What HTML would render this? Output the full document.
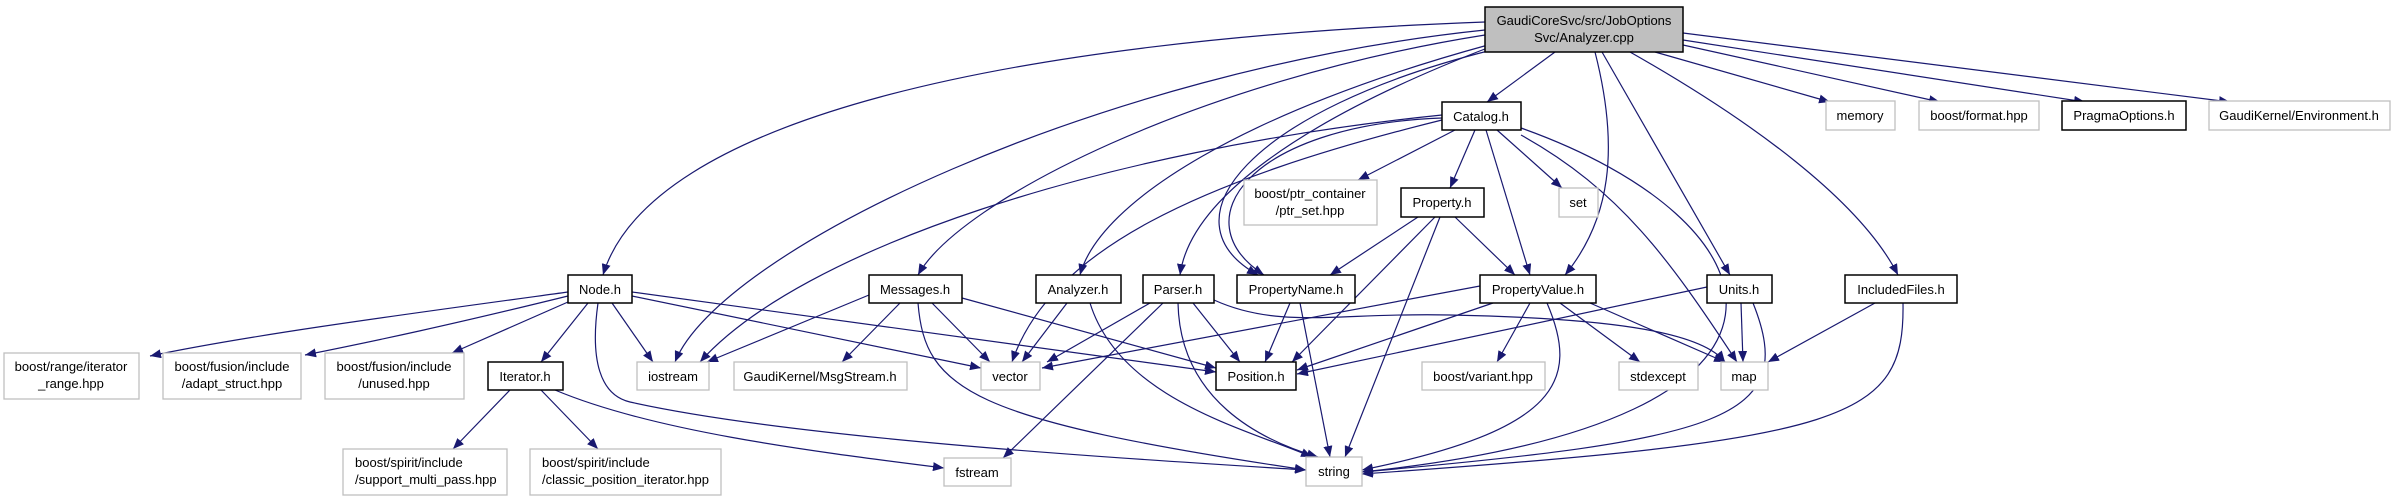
<!DOCTYPE html>
<html><head><meta charset="utf-8"><style>
html,body{margin:0;padding:0;background:#fff;}
svg{display:block;}
text{font-family:"Liberation Sans",sans-serif;font-size:13px;fill:#000;}
.e{fill:none;stroke:#191970;stroke-width:1.2;marker-end:url(#a);}
.b{fill:#fff;stroke:#000;stroke-width:1.5;}
.g{fill:#fff;stroke:#bfbfbf;stroke-width:1.3;}
</style></head><body>
<svg width="2396" height="501" viewBox="0 0 2396 501" xmlns="http://www.w3.org/2000/svg">
<defs><marker id="a" markerUnits="userSpaceOnUse" markerWidth="12" markerHeight="9" refX="11" refY="4.5" orient="auto"><path d="M0,0 L11,4.5 L0,9 z" fill="#191970"/></marker></defs>
<g>
<path class="e" d="M1485,22 C1000,40 650,120 603,275"/>
<path class="e" d="M1485,30 C1100,70 720,250 675,362"/>
<path class="e" d="M1485,35 C1200,80 960,200 918,275"/>
<path class="e" d="M1488,45 C1250,110 1100,200 1080,275"/>
<path class="e" d="M1490,47 C1300,120 1190,200 1180,275"/>
<path class="e" d="M1492,50 C1250,110 1160,220 1258,275"/>
<path class="e" d="M1555,52 L1487,102"/>
<path class="e" d="M1595,52 C1620,150 1610,220 1565,275"/>
<path class="e" d="M1602,52 L1730,275"/>
<path class="e" d="M1630,52 C1750,120 1860,200 1898,275"/>
<path class="e" d="M1655,52 L1830,102"/>
<path class="e" d="M1683,45 L1940,102"/>
<path class="e" d="M1683,40 L2085,102"/>
<path class="e" d="M1683,33 L2230,102"/>

<path class="e" d="M568,292 C400,315 250,335 150,356"/>
<path class="e" d="M568,296 C450,325 380,340 305,355"/>
<path class="e" d="M568,302 L452,353"/>
<path class="e" d="M588,303 L541,362"/>
<path class="e" d="M612,303 L653,362"/>
<path class="e" d="M598,303 C590,360 600,395 630,402 C800,440 1150,460 1306,470"/>
<path class="e" d="M632,296 L981,368"/>
<path class="e" d="M632,292 L1216,372"/>
<path class="e" d="M510,390 L453,449"/>
<path class="e" d="M541,390 L598,449"/>
<path class="e" d="M555,390 C650,430 800,450 944,468"/>
<path class="e" d="M869,295 L707,362"/>
<path class="e" d="M900,303 L842,362"/>
<path class="e" d="M932,303 L990,362"/>
<path class="e" d="M962,298 L1216,368"/>
<path class="e" d="M918,303 C925,390 970,420 1306,470"/>
<path class="e" d="M1067,303 L1022,362"/>
<path class="e" d="M1090,303 C1120,400 1250,430 1312,457"/>
<path class="e" d="M1150,303 L1047,362"/>
<path class="e" d="M1163,303 L1003,458"/>
<path class="e" d="M1193,303 L1240,362"/>
<path class="e" d="M1178,303 C1180,400 1260,440 1318,457"/>
<path class="e" d="M1214,300 C1280,330 1340,312 1450,315 C1600,318 1700,330 1725,362"/>
<path class="e" d="M1290,303 L1265,362"/>
<path class="e" d="M1300,303 L1330,457"/>
<path class="e" d="M1442,115 C1100,150 800,250 700,362"/>
<path class="e" d="M1442,120 C1200,180 1050,250 1012,362"/>
<path class="e" d="M1442,118 C1250,125 1180,220 1264,275"/>
<path class="e" d="M1455,130 L1358,180"/>
<path class="e" d="M1475,130 L1450,188"/>
<path class="e" d="M1486,130 L1530,275"/>
<path class="e" d="M1497,130 L1562,188"/>
<path class="e" d="M1521,135 C1620,190 1670,260 1737,362"/>
<path class="e" d="M1521,128 C1780,220 1860,420 1362,472"/>
<path class="e" d="M1418,217 L1330,275"/>
<path class="e" d="M1435,217 L1292,362"/>
<path class="e" d="M1440,217 L1345,457"/>
<path class="e" d="M1455,217 L1515,275"/>
<path class="e" d="M1480,286 L1042,368"/>
<path class="e" d="M1493,303 L1297,370"/>
<path class="e" d="M1530,303 L1497,362"/>
<path class="e" d="M1560,303 L1640,362"/>
<path class="e" d="M1590,303 L1725,362"/>
<path class="e" d="M1547,303 C1580,380 1560,430 1362,470"/>
<path class="e" d="M1707,287 L1297,374"/>
<path class="e" d="M1741,303 L1743,362"/>
<path class="e" d="M1753,303 C1800,420 1720,440 1362,472"/>
<path class="e" d="M1875,303 L1768,362"/>
<path class="e" d="M1903,303 C1905,420 1850,440 1362,474"/>
</g>
<g>
<rect x="1485" y="7" width="198" height="45" fill="#bfbfbf" stroke="#000" stroke-width="1.5"/>
<text x="1584" y="25" text-anchor="middle">GaudiCoreSvc/src/JobOptions</text>
<text x="1584" y="42" text-anchor="middle">Svc/Analyzer.cpp</text>

<rect class="b" x="1442" y="102" width="79" height="28"/><text x="1481" y="121" text-anchor="middle">Catalog.h</text>
<rect class="g" x="1826" y="101" width="69" height="29"/><text x="1860" y="120" text-anchor="middle">memory</text>
<rect class="g" x="1919" y="101" width="120" height="29"/><text x="1979" y="120" text-anchor="middle">boost/format.hpp</text>
<rect class="b" x="2062" y="101" width="124" height="29"/><text x="2124" y="120" text-anchor="middle">PragmaOptions.h</text>
<rect class="g" x="2209" y="101" width="181" height="29"/><text x="2299" y="120" text-anchor="middle">GaudiKernel/Environment.h</text>

<rect class="g" x="1244" y="180" width="133" height="45"/><text x="1310" y="198" text-anchor="middle">boost/ptr_container</text><text x="1310" y="215" text-anchor="middle">/ptr_set.hpp</text>
<rect class="b" x="1401" y="188" width="83" height="29"/><text x="1442" y="207" text-anchor="middle">Property.h</text>
<rect class="g" x="1559" y="188" width="39" height="29"/><text x="1578" y="207" text-anchor="middle">set</text>

<rect class="b" x="568" y="275" width="64" height="28"/><text x="600" y="294" text-anchor="middle">Node.h</text>
<rect class="b" x="869" y="275" width="93" height="28"/><text x="915" y="294" text-anchor="middle">Messages.h</text>
<rect class="b" x="1036" y="275" width="85" height="28"/><text x="1078" y="294" text-anchor="middle">Analyzer.h</text>
<rect class="b" x="1143" y="275" width="71" height="28"/><text x="1178" y="294" text-anchor="middle">Parser.h</text>
<rect class="b" x="1237" y="275" width="118" height="28"/><text x="1296" y="294" text-anchor="middle">PropertyName.h</text>
<rect class="b" x="1480" y="275" width="116" height="28"/><text x="1538" y="294" text-anchor="middle">PropertyValue.h</text>
<rect class="b" x="1707" y="275" width="65" height="28"/><text x="1739" y="294" text-anchor="middle">Units.h</text>
<rect class="b" x="1845" y="275" width="112" height="28"/><text x="1901" y="294" text-anchor="middle">IncludedFiles.h</text>

<rect class="g" x="4" y="353" width="135" height="46"/><text x="71" y="371" text-anchor="middle">boost/range/iterator</text><text x="71" y="388" text-anchor="middle">_range.hpp</text>
<rect class="g" x="163" y="353" width="138" height="46"/><text x="232" y="371" text-anchor="middle">boost/fusion/include</text><text x="232" y="388" text-anchor="middle">/adapt_struct.hpp</text>
<rect class="g" x="325" y="353" width="139" height="46"/><text x="394" y="371" text-anchor="middle">boost/fusion/include</text><text x="394" y="388" text-anchor="middle">/unused.hpp</text>

<rect class="b" x="488" y="362" width="75" height="28"/><text x="525" y="381" text-anchor="middle">Iterator.h</text>
<rect class="g" x="637" y="362" width="72" height="28"/><text x="673" y="381" text-anchor="middle">iostream</text>
<rect class="g" x="734" y="362" width="173" height="28"/><text x="820" y="381" text-anchor="middle">GaudiKernel/MsgStream.h</text>
<rect class="g" x="981" y="362" width="59" height="28"/><text x="1010" y="381" text-anchor="middle">vector</text>
<rect class="b" x="1216" y="362" width="80" height="28"/><text x="1256" y="381" text-anchor="middle">Position.h</text>
<rect class="g" x="1422" y="362" width="123" height="28"/><text x="1483" y="381" text-anchor="middle">boost/variant.hpp</text>
<rect class="g" x="1619" y="362" width="79" height="28"/><text x="1658" y="381" text-anchor="middle">stdexcept</text>
<rect class="g" x="1721" y="362" width="47" height="28"/><text x="1744" y="381" text-anchor="middle">map</text>

<rect class="g" x="343" y="449" width="164" height="46"/><text x="355" y="467">boost/spirit/include</text><text x="355" y="484">/support_multi_pass.hpp</text>
<rect class="g" x="530" y="449" width="191" height="46"/><text x="542" y="467">boost/spirit/include</text><text x="542" y="484">/classic_position_iterator.hpp</text>
<rect class="g" x="944" y="458" width="67" height="28"/><text x="977" y="477" text-anchor="middle">fstream</text>
<rect class="g" x="1306" y="457" width="56" height="29"/><text x="1334" y="476" text-anchor="middle">string</text>
</g>
</svg>
</body></html>
